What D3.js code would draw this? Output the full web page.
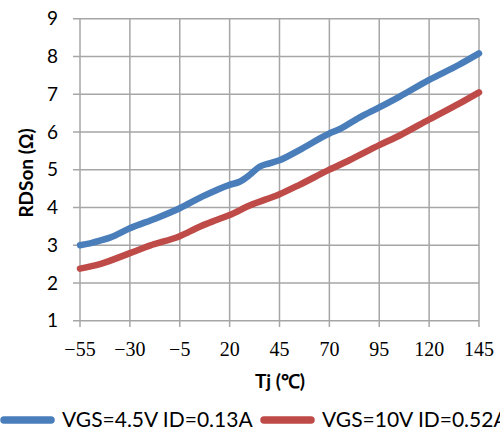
<!DOCTYPE html>
<html><head><meta charset="utf-8">
<script src="https://cdn.jsdelivr.net/npm/d3@7"></script>
<style>body{margin:0;background:#fff;} svg{display:block;}</style>
</head><body>
<svg id="c" width="500" height="431"></svg>
<script>
const xTicks = [-55, -30, -5, 20, 45, 70, 95, 120, 145];
const yTicks = [1, 2, 3, 4, 5, 6, 7, 8, 9];
const seriesNames = ["VGS=4.5V ID=0.13A", "VGS=10V ID=0.52A"];
const seriesColors = ["#4a7ebb", "#be4b48"];
const blueT = [-55, -50, -45, -40, -30, -17, -5, 6, 20, 25, 30, 35, 40, 45, 55, 70, 75, 85, 95, 105, 120, 135, 145];
const blueV = [3.0, 3.05, 3.12, 3.2, 3.45, 3.71, 3.98, 4.28, 4.6, 4.68, 4.86, 5.08, 5.17, 5.25, 5.52, 5.96, 6.07, 6.38, 6.65, 6.93, 7.38, 7.78, 8.08];
const redT = [-55, -45, -30, -20, -5, 5, 12, 20, 30, 45, 55, 70, 80, 95, 105, 120, 135, 145];
const redV = [2.38, 2.5, 2.79, 2.99, 3.24, 3.49, 3.64, 3.80, 4.05, 4.35, 4.6, 5.0, 5.25, 5.65, 5.9, 6.33, 6.75, 7.05];

const svg = d3.select("#c");
const x = d3.scaleLinear().domain([-55, 145]).range([80, 479]);
const y = d3.scaleLinear().domain([1, 9]).range([320.7, 18.7]);
const grid = "#a6a6a6";

// gridlines
svg.append("g").selectAll("line").data(yTicks).join("line")
  .attr("x1", 73).attr("x2", 479).attr("y1", d => y(d)).attr("y2", d => y(d))
  .attr("stroke", grid).attr("stroke-width", 1.5);
svg.append("g").selectAll("line").data(xTicks).join("line")
  .attr("x1", d => x(d)).attr("x2", d => x(d)).attr("y1", y(9)).attr("y2", 327)
  .attr("stroke", grid).attr("stroke-width", 1.5);

// tick labels
svg.append("g").selectAll("text").data(yTicks).join("text")
  .attr("x", 58).attr("y", d => y(d)).attr("dy", "0.35em")
  .attr("text-anchor", "end").attr("font-family", "Lato, 'Liberation Sans', sans-serif")
  .attr("font-size", 19).attr("fill", "#000").text(d => d);
svg.append("g").selectAll("text").data(xTicks).join("text")
  .attr("x", d => x(d)).attr("y", 356)
  .attr("text-anchor", "middle").attr("font-family", "'Liberation Serif', serif")
  .attr("font-size", 20).attr("fill", "#000").text(d => d < 0 ? "\u2212" + Math.abs(d) : d);

// titles
svg.append("text").attr("transform", "translate(33,173) rotate(-90)")
  .attr("text-anchor", "middle").attr("font-family", "Lato, 'Liberation Sans', sans-serif")
  .attr("font-weight", "bold").attr("font-size", 19).text("RDSon (Ω)");
svg.append("text").attr("x", 280).attr("y", 388)
  .attr("text-anchor", "middle").attr("font-family", "Lato, 'Liberation Sans', sans-serif")
  .attr("font-weight", "bold").attr("font-size", 19).text("Tj (℃)");

// lines
const line = d3.line().x(d => x(d[0])).y(d => y(d[1])).curve(d3.curveMonotoneX);
const data = [d3.zip(blueT, blueV), d3.zip(redT, redV)];
svg.append("g").selectAll("path").data(data).join("path")
  .attr("d", line).attr("fill", "none")
  .attr("stroke", (d, i) => seriesColors[i]).attr("stroke-width", 6.5)
  .attr("stroke-linejoin", "round").attr("stroke-linecap", "round");

// legend
const lg = svg.append("g");
const lx = [4, 264];
seriesNames.forEach((n, i) => {
  lg.append("line").attr("x1", lx[i]).attr("x2", lx[i] + 47).attr("y1", 420).attr("y2", 420)
    .attr("stroke", seriesColors[i]).attr("stroke-width", 7.5).attr("stroke-linecap", "round");
  lg.append("text").attr("x", lx[i] + 58).attr("y", 427)
    .attr("font-family", "Lato, 'Liberation Sans', sans-serif").attr("font-size", 21)
    .attr("fill", "#000").text(n);
});
</script>
</body></html>
